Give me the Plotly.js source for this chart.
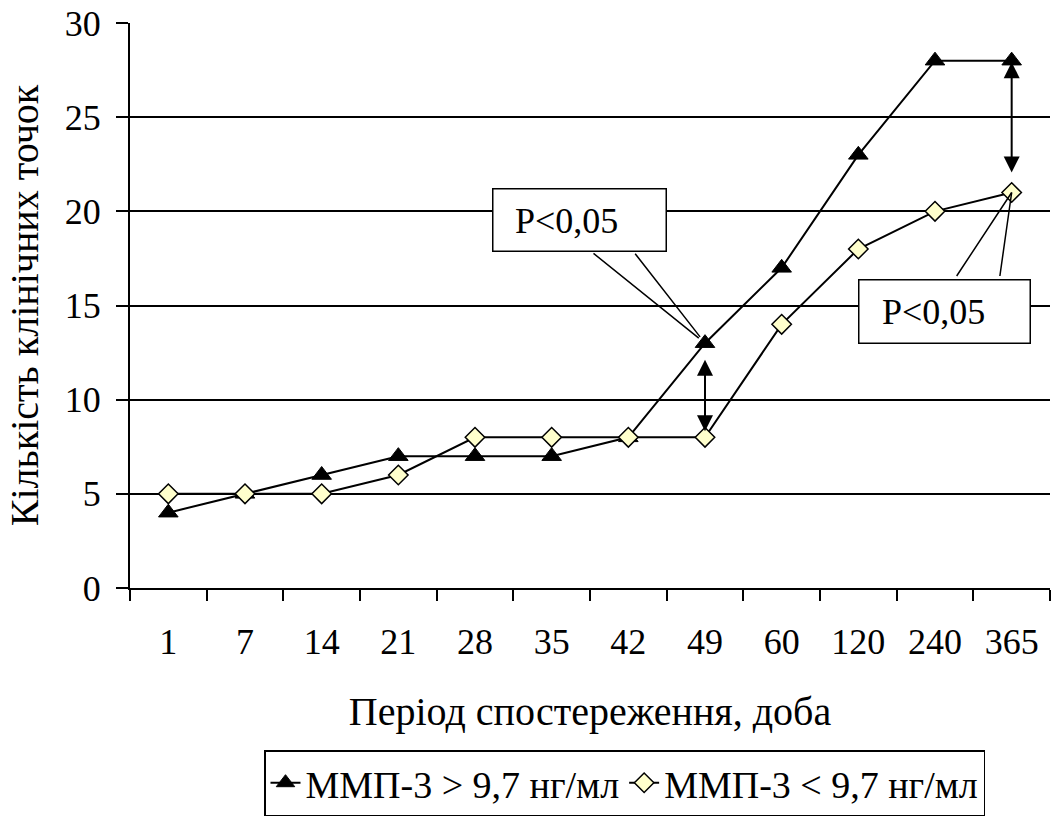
<!DOCTYPE html>
<html>
<head>
<meta charset="utf-8">
<script src="https://cdn.plot.ly/plotly-3.0.1.min.js"></script>
<style>html,body{margin:0;padding:0;background:#fff;}</style>
</head>
<body>
<div id="chart" style="width:1054px;height:819px;"></div>
<script>
const days = ['1','7','14','21','28','35','42','49','60','120','240','365'];
const highMMP = [4,5,6,7,7,7,8,13,17,23,28,28];
const lowMMP = [5,5,5,6,8,8,8,8,14,18,20,21];
const seriesNames = ['ММП-3 > 9,7 нг/мл', 'ММП-3 < 9,7 нг/мл'];
const yTicks = [0,5,10,15,20,25,30];
const pLabel = 'P<0,05';
const markedDays = ['49', '365'];

const FONT = 'Liberation Serif';
const NUM = 36, TITLE = 40, LEG = 38;

const traces = [
  {
    x: days, y: highMMP, name: seriesNames[0], type: 'scatter', mode: 'lines+markers',
    line: {color: '#000', width: 2},
    marker: {symbol: 'triangle-up', size: 17, color: '#000', line: {color: '#000', width: 1}}
  },
  {
    x: days, y: lowMMP, name: seriesNames[1], type: 'scatter', mode: 'lines+markers',
    line: {color: '#000', width: 2},
    marker: {symbol: 'diamond', size: 15, color: '#FFFFCC', line: {color: '#000', width: 1.5}}
  }
];

// category index of the marked days (numeric-looking categories must be referenced by index)
const i1 = days.indexOf(markedDays[0]);
const i2 = days.indexOf(markedDays[1]);

const wedge = {xref: 'x', yref: 'y', showarrow: true, arrowhead: 0, arrowwidth: 1.5, arrowcolor: '#000', text: ''};
const annotations = [
  // callout 1 wedge lines
  Object.assign({}, wedge, {x: i1, y: highMMP[i1], ax: -113, ay: -91, standoff: 8}),
  Object.assign({}, wedge, {x: i1, y: highMMP[i1], ax: -71, ay: -91, standoff: 8}),
  // callout 2 wedge lines
  Object.assign({}, wedge, {x: i2, y: lowMMP[i2], ax: -56, ay: 85, standoff: 0}),
  Object.assign({}, wedge, {x: i2, y: lowMMP[i2], ax: -12, ay: 85, standoff: 0}),
  // boxes
  {x: 579, y: 219.5, xref: 'paper', yref: 'paper', xanchor: 'center', yanchor: 'middle', text: ' ', showarrow: false,
   bgcolor: '#fff', bordercolor: '#000', borderwidth: 1.5, width: 170, height: 59},
  {x: 944, y: 311, xref: 'paper', yref: 'paper', xanchor: 'center', yanchor: 'middle', text: ' ', showarrow: false,
   bgcolor: '#fff', bordercolor: '#000', borderwidth: 1.5, width: 168, height: 60},
  // box texts
  {x: 566, y: 221, xref: 'paper', yref: 'paper', xanchor: 'center', yanchor: 'middle', text: pLabel, showarrow: false,
   font: {family: FONT, size: NUM, color: '#000'}},
  {x: 933, y: 312, xref: 'paper', yref: 'paper', xanchor: 'center', yanchor: 'middle', text: pLabel, showarrow: false,
   font: {family: FONT, size: NUM, color: '#000'}},
  // double arrows
  {x: i1, y: lowMMP[i1], xref: 'x', yref: 'y', ax: 0, ayref: 'y', ay: highMMP[i1], text: '',
   showarrow: true, arrowhead: 2, arrowside: 'end+start', arrowsize: 1.6, arrowwidth: 2, arrowcolor: '#000',
   standoff: 6, startstandoff: 15},
  {x: i2, y: lowMMP[i2], xref: 'x', yref: 'y', ax: 0, ayref: 'y', ay: highMMP[i2], text: '',
   showarrow: true, arrowhead: 2, arrowside: 'end+start', arrowsize: 1.6, arrowwidth: 2, arrowcolor: '#000',
   standoff: 20, startstandoff: 0}
];

// convert pixel box positions into paper fractions
const L = 130, R = 4, T = 23, B = 231, W = 1054, H = 819;
const pw = W - L - R, ph = H - T - B;
annotations.forEach(a => {
  if (a.xref === 'paper') {
    a.x = (a.x - L) / pw;
    a.y = 1 - (a.y - T) / ph;
  }
});

const layout = {
  width: W, height: H,
  margin: {l: L, r: R, t: T, b: B, pad: 0, autoexpand: false},
  paper_bgcolor: '#fff', plot_bgcolor: '#fff',
  font: {family: FONT, size: NUM, color: '#000'},
  showlegend: true,
  legend: {
    orientation: 'h', x: 0.5375, xanchor: 'center', yref: 'container', y: 3 / H, yanchor: 'bottom',
    bordercolor: '#000', borderwidth: 1.5, bgcolor: '#fff',
    font: {family: FONT, size: LEG, color: '#000'}, itemwidth: 30, tracegroupgap: 0
  },
  xaxis: {
    type: 'category', categoryorder: 'array', categoryarray: days,
    showline: true, linecolor: '#000', linewidth: 2,
    ticks: 'outside', tickson: 'boundaries', ticklen: 11, tickwidth: 2, tickcolor: '#000',
    showgrid: false, zeroline: false,
    ticklabelstandoff: 21,
    tickfont: {family: FONT, size: NUM, color: '#000'},
    title: {text: 'Період спостереження, доба', font: {family: FONT, size: TITLE, color: '#000'}, standoff: 36},
    range: [-0.5, 11.5], fixedrange: true
  },
  yaxis: {
    range: [0, 30], tickvals: yTicks, ticktext: yTicks.map(String),
    showline: true, linecolor: '#000', linewidth: 2,
    ticks: 'outside', ticklen: 12, tickwidth: 2, tickcolor: '#000',
    showgrid: true, gridcolor: '#000', gridwidth: 2, zeroline: false,
    ticklabelstandoff: 8,
    tickfont: {family: FONT, size: NUM, color: '#000'},
    title: {text: 'Кількість клінічних точок', font: {family: FONT, size: TITLE, color: '#000'}, standoff: 14},
    fixedrange: true
  },
  annotations: annotations
};

Plotly.newPlot('chart', traces, layout, {displayModeBar: false, staticPlot: true});
</script>
</body>
</html>
